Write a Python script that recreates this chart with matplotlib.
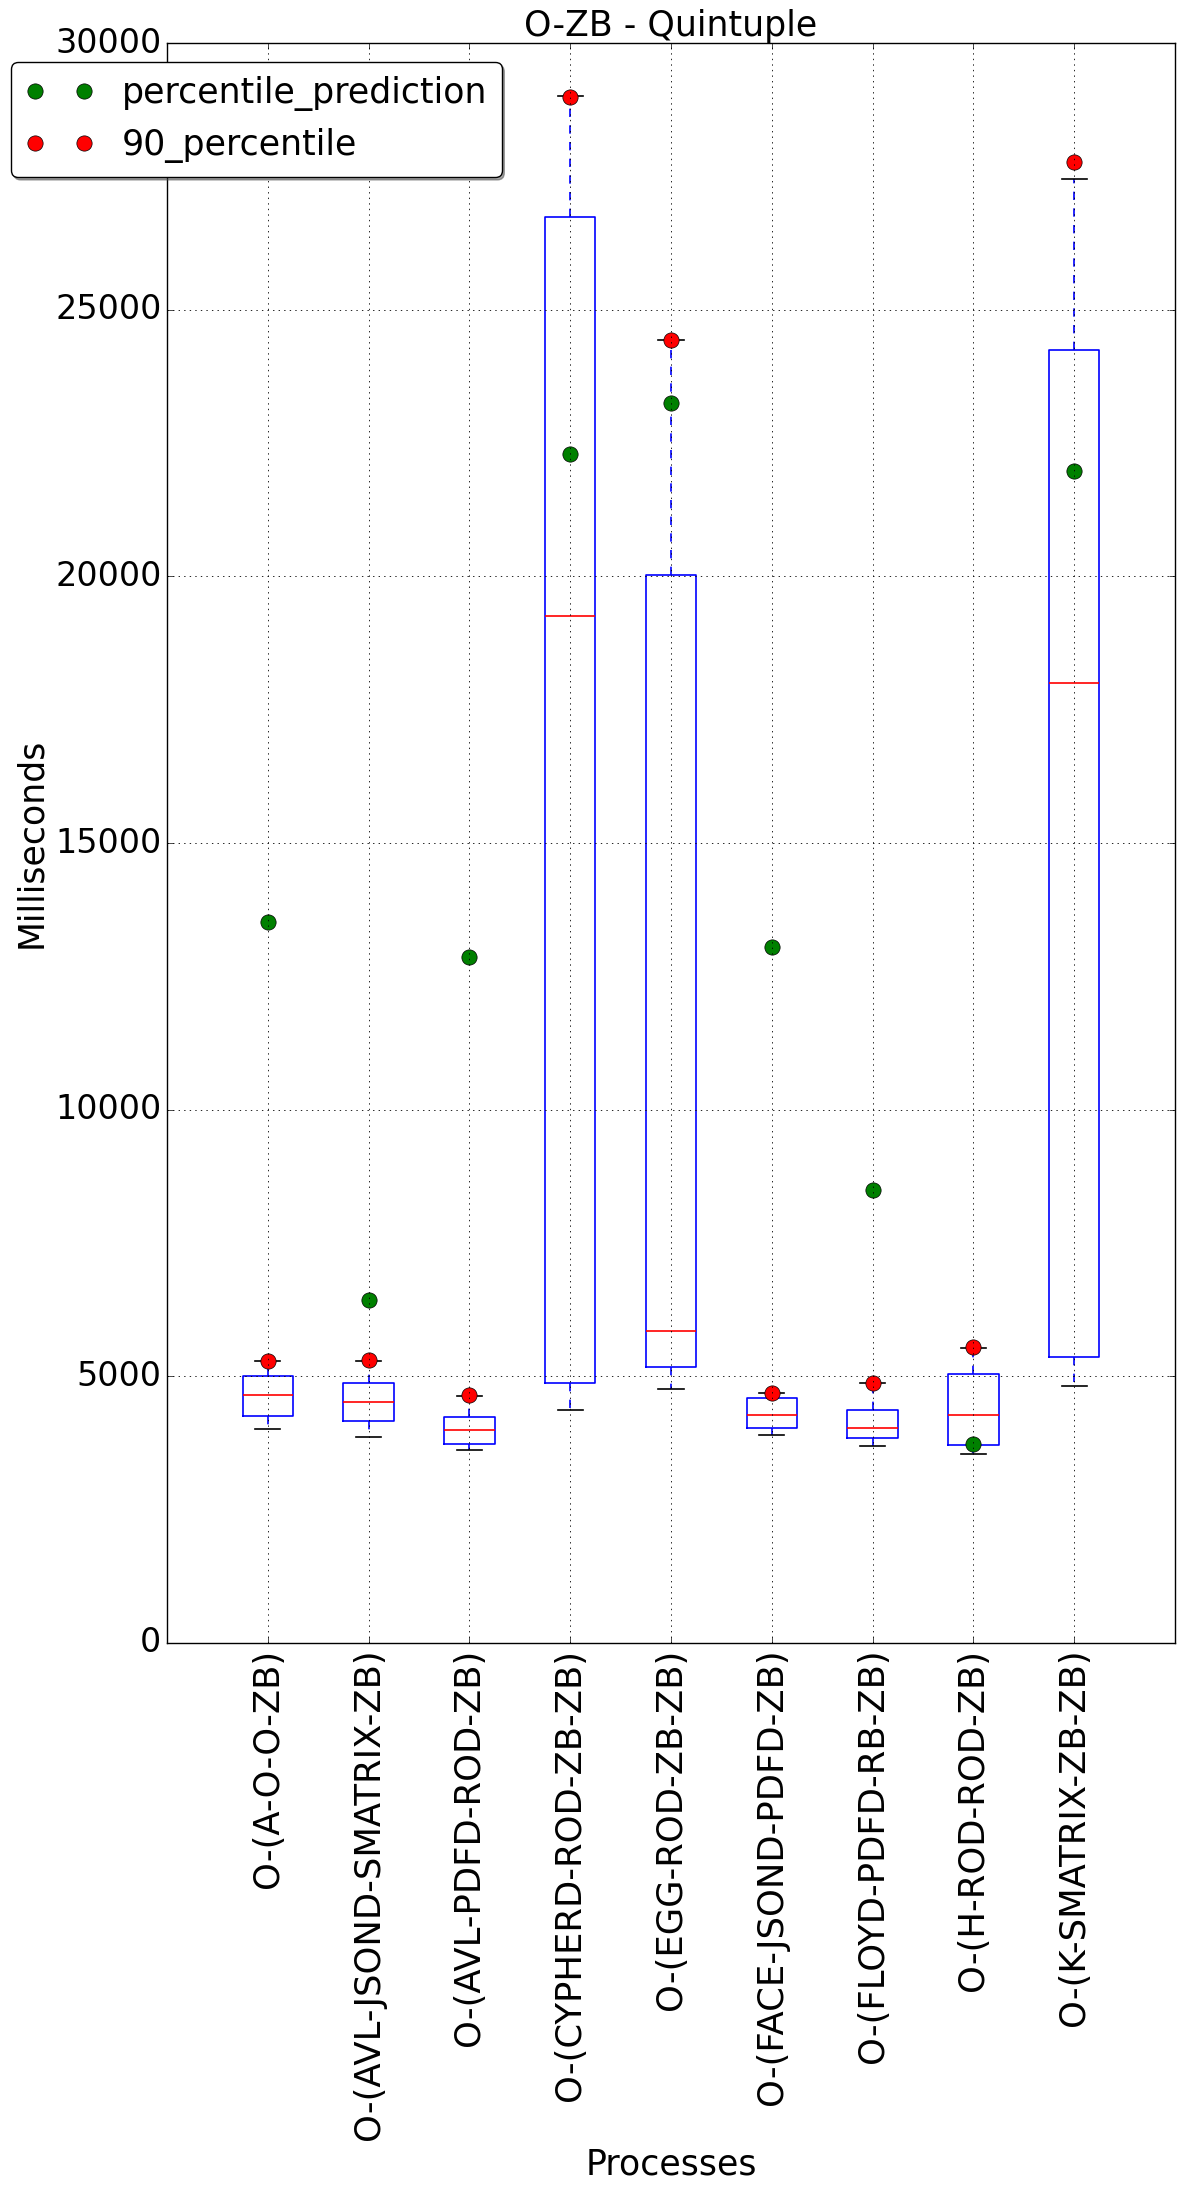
import matplotlib
matplotlib.use("Agg")
import matplotlib.pyplot as plt

plt.style.use("classic")

categories = [
    "O-(A-O-O-ZB)",
    "O-(AVL-JSOND-SMATRIX-ZB)",
    "O-(AVL-PDFD-ROD-ZB)",
    "O-(CYPHERD-ROD-ZB-ZB)",
    "O-(EGG-ROD-ZB-ZB)",
    "O-(FACE-JSOND-PDFD-ZB)",
    "O-(FLOYD-PDFD-RB-ZB)",
    "O-(H-ROD-ROD-ZB)",
    "O-(K-SMATRIX-ZB-ZB)",
]
whisker_low = [4013, 3863, 3613, 4369, 4757, 3894, 3688, 3538, 4813]
q1 = [4250, 4156, 3725, 4875, 5169, 4025, 3844, 3706, 5357]
median = [4644, 4519, 3994, 19257, 5844, 4269, 4031, 4269, 18000]
q3 = [5000, 4875, 4231, 26731, 20018, 4588, 4369, 5044, 24252]
whisker_high = [5290, 5290, 4640, 29000, 24430, 4680, 4870, 5540, 27450]
percentile_prediction = [13520, 6440, 12870, 22290, 23250, 13050, 8500, 3731, 21976]
percentile_90 = [5290, 5306, 4644, 28991, 24429, 4681, 4869, 5544, 27769]
y_ticks = [0, 5000, 10000, 15000, 20000, 25000, 30000]

fig = plt.figure(figsize=(11.84, 21.86), dpi=100, facecolor="white")
ax = fig.add_axes([0.141, 0.2484, 0.9924 - 0.141, 0.9803 - 0.2484])
ax.set_facecolor("white")

positions = list(range(1, len(categories) + 1))
stats = []
for i, name in enumerate(categories):
    stats.append(dict(label=name, whislo=whisker_low[i], q1=q1[i], med=median[i],
                      q3=q3[i], whishi=whisker_high[i], fliers=[]))

ax.bxp(stats, positions=positions, widths=0.5, showfliers=False,
       boxprops=dict(color="b", linewidth=1.2),
       whiskerprops=dict(color="b", linestyle="--", linewidth=1.2),
       capprops=dict(color="k", linewidth=1.2),
       medianprops=dict(color="r", linewidth=1.2))

ax.plot(positions, percentile_prediction, "o", color="green", markersize=11,
        markeredgecolor="k", label="percentile_prediction")
ax.plot(positions, percentile_90, "o", color="red", markersize=11,
        markeredgecolor="k", label="90_percentile")

ax.set_xlim(0, len(categories) + 1)
ax.set_ylim(0, 30000)
ax.set_yticks(y_ticks)
ax.set_xticks(positions)
ax.set_xticklabels(categories, rotation=90, fontsize=25.5)
ax.tick_params(axis="y", labelsize=24)
ax.grid(True, color="k", linestyle=":", linewidth=0.6)

ax.set_title("O-ZB - Quintuple", fontsize=25)
ax.set_xlabel("Processes", fontsize=25)
ax.set_ylabel("Milliseconds", fontsize=25)

leg = ax.legend(loc="upper left", bbox_to_anchor=(11 / 1184, 1 - 62 / 2186),
                bbox_transform=fig.transFigure, borderaxespad=0,
                fancybox=True, shadow=True, numpoints=2, fontsize=25)

fig.savefig("out.png", dpi=100, facecolor="white")
